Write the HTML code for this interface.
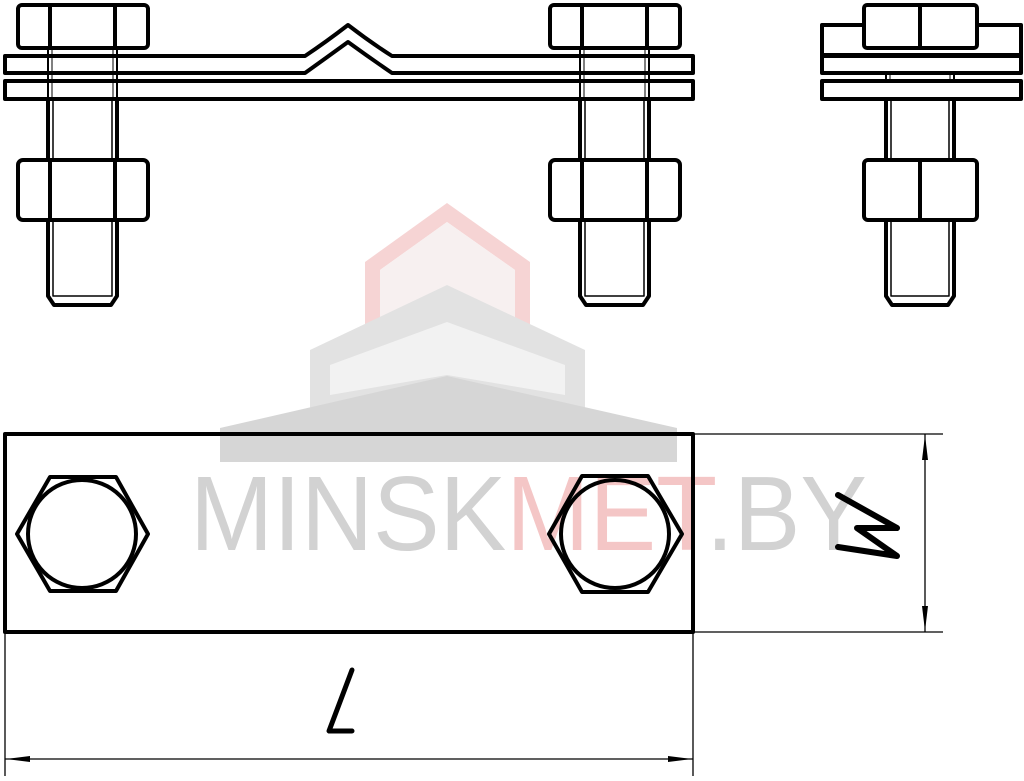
<!DOCTYPE html>
<html><head><meta charset="utf-8"><style>html,body{margin:0;padding:0;background:#fff}svg{display:block}</style></head>
<body>
<svg width="1024" height="781" viewBox="0 0 1024 781" xmlns="http://www.w3.org/2000/svg">
<!-- watermark -->
<g>
  <polygon points="365,330 365,262 447,203 530,262 530,330 515,330 515,270 447,222 380,270 380,330" fill="#f6d4d4"/>
  <polygon points="380,330 380,270 447,222 515,270 515,330" fill="#f7f0f0"/>
  <polygon points="310,420 310,350 447,285 585,350 585,420" fill="#e2e2e2"/>
  <polygon points="330,395 330,365 447,322 565,365 565,395 447,375" fill="#f2f2f2"/>
  <polygon points="220,462 220,428 447,376 677,428 677,462" fill="#d6d6d6"/>
  <text x="190" y="550" font-family="Liberation Sans, sans-serif" font-size="106" textLength="677" lengthAdjust="spacingAndGlyphs" fill="#d2d2d2">MINSK<tspan fill="#f4c6c6">MET</tspan>.BY</text>
</g>
<g fill="none" stroke="#000" stroke-linejoin="round">
  <path d="M5,56 L305,56 Q326,42 348,25 Q370,42 392,56 L693,56 L693,73 L392,73 Q370,58 348,42 Q326,58 305,73 L5,73 Z" stroke-width="4" fill="#fff"/>
  <rect x="5" y="81" width="688" height="18" stroke-width="4" fill="#fff"/>
  <g>
    <line x1="48" y1="48" x2="48" y2="100" stroke-width="2"/><line x1="117" y1="48" x2="117" y2="100" stroke-width="2"/>
    <line x1="52" y1="48" x2="52" y2="100" stroke-width="1"/><line x1="113" y1="48" x2="113" y2="100" stroke-width="1"/>
    <path d="M48,100 L48,296 L54,305 L111,305 L117,296 L117,100" stroke-width="4"/>
    <path d="M53,100 L53,296 L112,296 L112,100" stroke-width="1.5"/>
    <rect x="18" y="5" width="130" height="43" rx="4" stroke-width="4" fill="#fff"/>
    <line x1="50" y1="5" x2="50" y2="48" stroke-width="4"/><line x1="115" y1="5" x2="115" y2="48" stroke-width="4"/>
    <rect x="18" y="160" width="130" height="60" rx="5" stroke-width="4" fill="#fff"/>
    <line x1="50" y1="160" x2="50" y2="220" stroke-width="4"/><line x1="115" y1="160" x2="115" y2="220" stroke-width="4"/>
  </g>
  <g transform="translate(532,0)">
    <line x1="48" y1="48" x2="48" y2="100" stroke-width="2"/><line x1="117" y1="48" x2="117" y2="100" stroke-width="2"/>
    <line x1="52" y1="48" x2="52" y2="100" stroke-width="1"/><line x1="113" y1="48" x2="113" y2="100" stroke-width="1"/>
    <path d="M48,100 L48,296 L54,305 L111,305 L117,296 L117,100" stroke-width="4"/>
    <path d="M53,100 L53,296 L112,296 L112,100" stroke-width="1.5"/>
    <rect x="18" y="5" width="130" height="43" rx="4" stroke-width="4" fill="#fff"/>
    <line x1="50" y1="5" x2="50" y2="48" stroke-width="4"/><line x1="115" y1="5" x2="115" y2="48" stroke-width="4"/>
    <rect x="18" y="160" width="130" height="60" rx="5" stroke-width="4" fill="#fff"/>
    <line x1="50" y1="160" x2="50" y2="220" stroke-width="4"/><line x1="115" y1="160" x2="115" y2="220" stroke-width="4"/>
  </g>
  <line x1="886" y1="48" x2="886" y2="100" stroke-width="2"/><line x1="954" y1="48" x2="954" y2="100" stroke-width="2"/>
  <line x1="890" y1="48" x2="890" y2="100" stroke-width="1"/><line x1="950" y1="48" x2="950" y2="100" stroke-width="1"/>
  <rect x="822" y="25" width="199" height="30" stroke-width="4" fill="#fff"/>
  <rect x="822" y="56" width="199" height="17" stroke-width="4" fill="#fff"/>
  <rect x="822" y="81" width="199" height="18" stroke-width="4" fill="#fff"/>
  <line x1="886" y1="73" x2="886" y2="81" stroke-width="2"/><line x1="954" y1="73" x2="954" y2="81" stroke-width="2"/>
  <path d="M886,100 L886,296 L892,305 L948,305 L954,296 L954,100" stroke-width="4"/>
  <path d="M891,100 L891,296 L949,296 L949,100" stroke-width="1.5"/>
  <rect x="864" y="5" width="113" height="43" rx="3" stroke-width="4" fill="#fff"/>
  <line x1="920" y1="5" x2="920" y2="48" stroke-width="4"/>
  <rect x="864" y="160" width="113" height="60" rx="4" stroke-width="4" fill="#fff"/>
  <line x1="920" y1="160" x2="920" y2="220" stroke-width="4"/>
  <rect x="5" y="434" width="688" height="198" stroke-width="4"/>
  <g stroke-width="4">
    <polygon points="17,534 50,477 116,477 148,534 116,591 50,591"/>
    <circle cx="82" cy="534" r="54"/>
    <polygon points="549,534 582,476 648,476 682,534 648,592 582,592"/>
    <circle cx="615" cy="534" r="54"/>
  </g>
  <g stroke-width="1.3">
    <line x1="5" y1="632" x2="5" y2="776"/>
    <line x1="693" y1="632" x2="693" y2="776"/>
    <line x1="5" y1="759" x2="693" y2="759"/>
    <line x1="693" y1="434" x2="943" y2="434"/>
    <line x1="693" y1="632" x2="943" y2="632"/>
    <line x1="925" y1="434" x2="925" y2="632"/>
  </g>
  <g fill="#000" stroke="none">
    <polygon points="6,759 30,756 30,762"/>
    <polygon points="692,759 668,756 668,762"/>
    <polygon points="925,435 922,460 928,460"/>
    <polygon points="925,631 922,606 928,606"/>
  </g>
  <path d="M352,670 L329,731 L352,731" stroke-width="5" stroke-linecap="round"/>
  <path d="M838,495 L897,528 L857,528 L897,556 L838,547" stroke-width="6" stroke-linecap="round"/>
</g>
</svg>
</body></html>
